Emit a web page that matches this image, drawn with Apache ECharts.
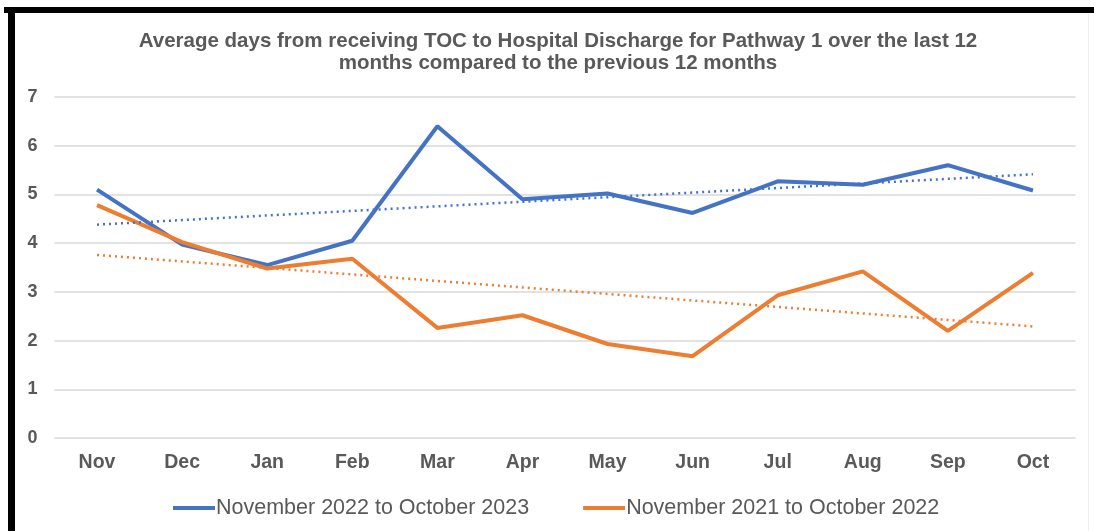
<!DOCTYPE html>
<html>
<head>
<meta charset="utf-8">
<script src="https://cdn.jsdelivr.net/npm/echarts@6/dist/echarts.min.js"></script>
<style>
html,body{margin:0;padding:0;background:#fff;}
#chart{width:1094px;height:531px;}
</style>
</head>
<body>
<div id="chart"></div>
<script>
var categories = ['Nov','Dec','Jan','Feb','Mar','Apr','May','Jun','Jul','Aug','Sep','Oct'];
var seriesNames = ['November 2022 to October 2023','November 2021 to October 2022'];
var current = [5.1, 3.97, 3.55, 4.05, 6.4, 4.9, 5.02, 4.62, 5.27, 5.2, 5.6, 5.08];
var previous = [4.78, 4.02, 3.48, 3.68, 2.26, 2.52, 1.93, 1.68, 2.93, 3.42, 2.2, 3.39];
var yTicks = [0, 1, 2, 3, 4, 5, 6, 7];

// Linear trendline (least squares) derived from the data, as in the source chart
function trend(vals) {
  var n = vals.length, sx = 0, sy = 0, sxy = 0, sxx = 0;
  for (var i = 0; i < n; i++) { sx += i; sy += vals[i]; sxy += i * vals[i]; sxx += i * i; }
  var b = (n * sxy - sx * sy) / (n * sxx - sx * sx);
  var a = (sy - b * sx) / n;
  return vals.map(function (_, i) { return a + b * i; });
}

var blue = '#4472C4', orange = '#ED7D31', grey = '#595959';
var chart = echarts.init(document.getElementById('chart'), null, {renderer: 'canvas'});
chart.setOption({
  backgroundColor: '#fff',
  animation: false,
  title: {
    text: 'Average days from receiving TOC to Hospital Discharge for Pathway 1 over the last 12\nmonths compared to the previous 12 months',
    left: 553, top: 25, textAlign: 'center',
    textStyle: {fontFamily: 'Liberation Sans, Arial, sans-serif', fontSize: 20.5, fontWeight: 'bold', color: grey, lineHeight: 22}
  },
  legend: {
    data: seriesNames,
    left: 168, top: 492,
    itemWidth: 42, itemHeight: 4, itemGap: 54,
    icon: 'rect',
    textStyle: {fontFamily: 'Liberation Sans, Arial, sans-serif', fontSize: 21.5, color: grey, padding: [0, 0, 0, -4]}
  },
  grid: {left: 54.5, right: 18.5, top: 97, bottom: 93, containLabel: false},
  xAxis: {
    type: 'category', data: categories, boundaryGap: true,
    axisLine: {show: false}, axisTick: {show: false},
    axisLabel: {fontFamily: 'Liberation Sans, Arial, sans-serif', fontSize: 19.5, fontWeight: 'bold', color: grey, margin: 15}
  },
  yAxis: {
    type: 'value', min: yTicks[0], max: yTicks[yTicks.length - 1], interval: 1,
    axisLine: {show: false}, axisTick: {show: false},
    axisLabel: {fontFamily: 'Liberation Sans, Arial, sans-serif', fontSize: 18, fontWeight: 'bold', color: grey, margin: 17},
    splitLine: {lineStyle: {color: '#D9D9D9', width: 1.5}}
  },
  series: [
    {name: seriesNames[0], type: 'line', data: current, symbol: 'none', lineStyle: {color: blue, width: 4}, itemStyle: {color: blue}, z: 3},
    {name: seriesNames[1], type: 'line', data: previous, symbol: 'none', lineStyle: {color: orange, width: 4}, itemStyle: {color: orange}, z: 3},
    {name: 'trend1', type: 'line', data: trend(current), symbol: 'none', lineStyle: {color: blue, width: 2.5, type: [2, 4]}, z: 4, silent: true},
    {name: 'trend2', type: 'line', data: trend(previous), symbol: 'none', lineStyle: {color: orange, width: 2.5, type: [2, 4]}, z: 4, silent: true}
  ],
  graphic: [
    {type: 'rect', shape: {x: 4, y: 7, width: 1090, height: 6}, style: {fill: '#000'}, z: 100},
    {type: 'rect', shape: {x: 8, y: 7, width: 7, height: 524}, style: {fill: '#000'}, z: 100},
    {type: 'rect', shape: {x: 1088, y: 13, width: 1, height: 518}, style: {fill: '#eeeeee'}, z: 100}
  ]
});
</script>
</body>
</html>
